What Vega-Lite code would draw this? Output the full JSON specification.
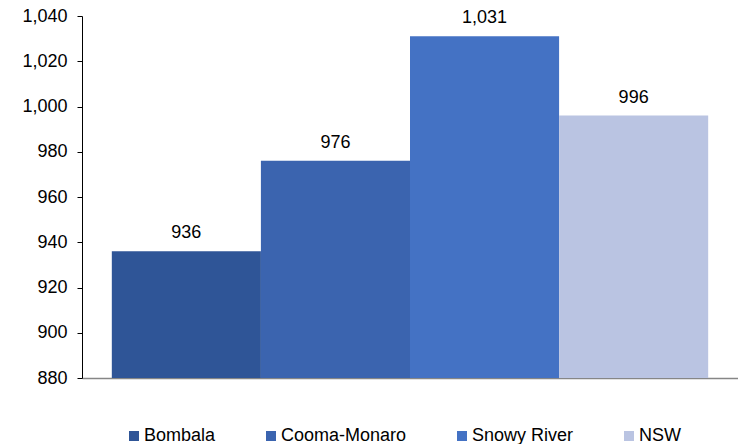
{
  "$schema": "https://vega.github.io/schema/vega-lite/v6.json",
  "width": 656,
  "height": 362,
  "autosize": {"type": "none"},
  "padding": {"left": 82, "top": 16, "right": 0, "bottom": 66},
  "background": "white",
  "config": {
    "view": {"stroke": null},
    "font": "Liberation Sans"
  },
  "data": {
    "values": [
      {"region": "Bombala", "value": 936},
      {"region": "Cooma-Monaro", "value": 976},
      {"region": "Snowy River", "value": 1031},
      {"region": "NSW", "value": 996}
    ]
  },
  "encoding": {
    "x": {
      "field": "region",
      "type": "nominal",
      "sort": null,
      "scale": {"paddingInner": 0, "paddingOuter": 0.2},
      "axis": {
        "title": null,
        "labels": false,
        "ticks": false,
        "domainColor": "#868686",
        "domainWidth": 1.5
      }
    },
    "y": {
      "field": "value",
      "type": "quantitative",
      "scale": {"domain": [880, 1040], "nice": false, "zero": false},
      "axis": {
        "title": null,
        "values": [880, 900, 920, 940, 960, 980, 1000, 1020, 1040],
        "format": ",d",
        "grid": false,
        "domainColor": "#000000",
        "tickColor": "#000000",
        "tickSize": 5,
        "labelPadding": 10,
        "labelFontSize": 18,
        "labelColor": "#000000",
        "labelFont": "Liberation Sans"
      }
    }
  },
  "layer": [
    {
      "mark": {"type": "bar"},
      "encoding": {
        "y2": {"datum": 880},
        "color": {
          "field": "region",
          "type": "nominal",
          "sort": null,
          "scale": {
            "domain": ["Bombala", "Cooma-Monaro", "Snowy River", "NSW"],
            "range": ["#2F5597", "#3B64AF", "#4472C4", "#BAC4E2"]
          },
          "legend": {
            "title": null,
            "orient": "none",
            "direction": "horizontal",
            "legendX": 43,
            "legendY": 411,
            "padding": 0,
            "symbolType": "square",
            "symbolSize": 100,
            "symbolStrokeWidth": 0,
            "symbolOpacity": 1,
            "labelFontSize": 18,
            "labelFont": "Liberation Sans",
            "labelColor": "#000000",
            "labelOffset": 1,
            "columnPadding": 46
          }
        }
      }
    },
    {
      "mark": {
        "type": "text",
        "baseline": "bottom",
        "dy": -9,
        "fontSize": 18,
        "font": "Liberation Sans",
        "color": "#000000"
      },
      "encoding": {
        "text": {"field": "value", "type": "quantitative", "format": ","}
      }
    }
  ]
}
